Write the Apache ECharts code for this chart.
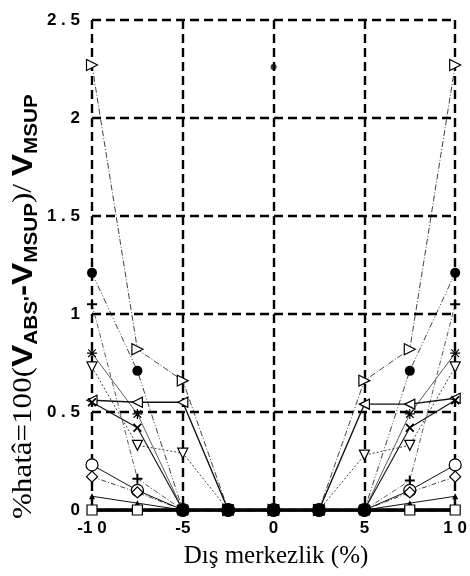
<!DOCTYPE html>
<html>
<head>
<meta charset="utf-8">
<script src="https://cdn.jsdelivr.net/npm/echarts@6/dist/echarts.min.js"></script>
<style>
  html, body { margin: 0; padding: 0; background: #fff; }
  #chart { width: 470px; height: 576px; }
</style>
</head>
<body>
<div id="chart"></div>
<script>
// Eccentricity values (%) along the horizontal axis
const eccentricity = [-10, -7.5, -5, -2.5, 0, 2.5, 5, 7.5, 10];

// Error series, one per curve
const triRight     = [2.27, 0.82, 0.66, 0, 0, 0, 0.66, 0.82, 2.27];
const filledCircle = [1.21, 0.71, 0, 0, 0, 0, 0, 0.71, 1.21];
const plusMark     = [1.05, 0.16, 0, 0, 0, 0, 0, 0.15, 1.05];
const asterisk     = [0.80, 0.49, 0, 0, 0, 0, 0, 0.49, 0.80];
const triDown      = [0.73, 0.33, 0.29, 0, 0, 0, 0.28, 0.33, 0.73];
const triLeft      = [0.56, 0.55, 0.55, 0, 0, 0, 0.54, 0.54, 0.57];
const crossMark    = [0.55, 0.42, 0, 0, 0, 0, 0, 0.42, 0.56];
const openCircle   = [0.23, 0.10, 0, 0, 0, 0, 0, 0.10, 0.23];
const diamondMark  = [0.17, 0.09, 0, 0, 0, 0, 0, 0.09, 0.17];
const smallTri     = [0.07, 0.035, 0, 0, 0, 0, 0, 0.035, 0.07];
const squareMark   = [0, 0, 0, 0, 0, 0, 0, 0, 0];
const strayPoint   = [[0, 2.26]];

// Axis ticks
const xTicks = [-10, -5, 0, 5, 10];
const yTicks = [0, 0.5, 1, 1.5, 2, 2.5];

const pair = arr => arr.map((v, i) => [eccentricity[i], v]);

const PLUS = 'path://M4,0h2v4h4v2h-4v4h-2v-4h-4v-2h4z';
const CROSS = 'path://M1.4,0L5,3.6L8.6,0L10,1.4L6.4,5L10,8.6L8.6,10L5,6.4L1.4,10L0,8.6L3.6,5L0,1.4z';
const STAR = 'path://M4.4,0h1.2v4.4h4.4v1.2h-4.4v4.4h-1.2v-4.4h-4.4v-1.2h4.4z M1.6,0.8L5,4.2L8.4,0.8L9.2,1.6L5.8,5L9.2,8.4L8.4,9.2L5,5.8L1.6,9.2L0.8,8.4L4.2,5L0.8,1.6z';

function curve(data, opt) {
  return {
    type: 'line',
    data: pair(data),
    symbol: opt.symbol,
    symbolSize: opt.size || 9,
    symbolRotate: opt.rotate || 0,
    showAllSymbol: true,
    z: opt.z || 3,
    lineStyle: { color: opt.lineColor || '#111', width: opt.width || 0.8, type: opt.dash || 'solid' },
    itemStyle: opt.open
      ? { color: '#fff', borderColor: '#000', borderWidth: 1.2 }
      : { color: '#000', borderColor: '#000', borderWidth: 0 },
    emphasis: { disabled: true },
    animation: false
  };
}

const chart = echarts.init(document.getElementById('chart'), null, { renderer: 'canvas' });

const gridDash = { color: '#000', width: 2.4, type: [9, 5] };

chart.setOption({
  backgroundColor: '#fff',
  animation: false,
  grid: { left: 92, right: 13, top: 20, bottom: 66, containLabel: false },
  xAxis: {
    type: 'value',
    min: xTicks[0], max: xTicks[xTicks.length - 1], interval: xTicks[1] - xTicks[0],
    axisLine: { show: true, onZero: false, lineStyle: { color: '#000', width: 2.5 } },
    axisTick: { show: false },
    splitLine: { show: true, lineStyle: gridDash },
    axisLabel: {
      margin: 10,
      fontFamily: 'Liberation Sans, Arial, sans-serif', fontWeight: 'bold', fontSize: 17, color: '#000',
      formatter: v => String(v).replace(/(\d)(?=\d)/g, '$1 ')
    }
  },
  yAxis: {
    type: 'value',
    min: yTicks[0], max: yTicks[yTicks.length - 1], interval: yTicks[1] - yTicks[0],
    axisLine: { show: false },
    axisTick: { show: false },
    splitLine: { show: true, lineStyle: gridDash },
    axisLabel: {
      margin: 12,
      fontFamily: 'Liberation Sans, Arial, sans-serif', fontWeight: 'bold', fontSize: 17, color: '#000',
      formatter: v => String(v).replace('.', ' . ')
    }
  },
  graphic: [
    {
      type: 'text',
      x: 276, y: 556,
      style: {
        text: 'Dış merkezlik (%)',
        font: '25px "Liberation Serif", "Times New Roman", serif',
        fill: '#000',
        align: 'center',
        verticalAlign: 'middle'
      }
    },
    {
      type: 'text',
      x: 7, y: 519,
      rotation: Math.PI / 2,
      scaleX: 1.15,
      style: {
        text: '{s|%hatâ=100(}{v|V}{b|ABS\'}{v|-V}{b|MSUP}{s|)/ }{v|V}{b|MSUP}',
        rich: {
          s: { font: '27px "Liberation Serif", serif', fill: '#000', lineHeight: 34 },
          v: { font: 'bold 29px "Liberation Sans", sans-serif', fill: '#000', lineHeight: 34 },
          b: { font: 'bold 18px "Liberation Sans", sans-serif', fill: '#000', lineHeight: 18, verticalAlign: 'bottom' }
        }
      }
    }
  ],
  series: [
    curve(triRight,    { symbol: 'triangle', rotate: -90, open: true, size: 11, dash: [6, 2, 1, 2] }),
    curve(plusMark,    { symbol: PLUS, size: 10, dash: [5, 2, 1, 2], lineColor: '#333' }),
    curve(asterisk,    { symbol: STAR, size: 10, dash: 'solid', lineColor: '#333' }),
    curve(triDown,     { symbol: 'triangle', rotate: 180, open: true, size: 10, dash: [2, 2] }),
    curve(triLeft,     { symbol: 'triangle', rotate: 90, open: true, size: 10, width: 1.4 }),
    curve(crossMark,   { symbol: CROSS, size: 9, width: 1.1 }),
    curve(openCircle,  { symbol: 'circle', open: true, size: 12, width: 1 }),
    curve(diamondMark, { symbol: 'diamond', open: true, size: 11, dash: [5, 2, 1, 2] }),
    curve(smallTri,    { symbol: 'triangle', size: 6, width: 1 }),
    curve(squareMark,  { symbol: 'rect', open: true, size: 10, width: 3.5, lineColor: '#000' }),
    Object.assign(
      curve(filledCircle, { symbol: 'circle', dash: [6, 2, 1, 2, 1, 2], z: 4 }),
      // zero-error points sit under a heavier blob where all curves meet
      { symbolSize: v => (v[1] === 0 ? 14 : 10) }
    ),
    {
      type: 'scatter',
      data: strayPoint,
      symbol: 'circle',
      symbolSize: 6,
      itemStyle: { color: '#000' },
      z: 4,
      animation: false
    }
  ]
});
</script>
</body>
</html>
